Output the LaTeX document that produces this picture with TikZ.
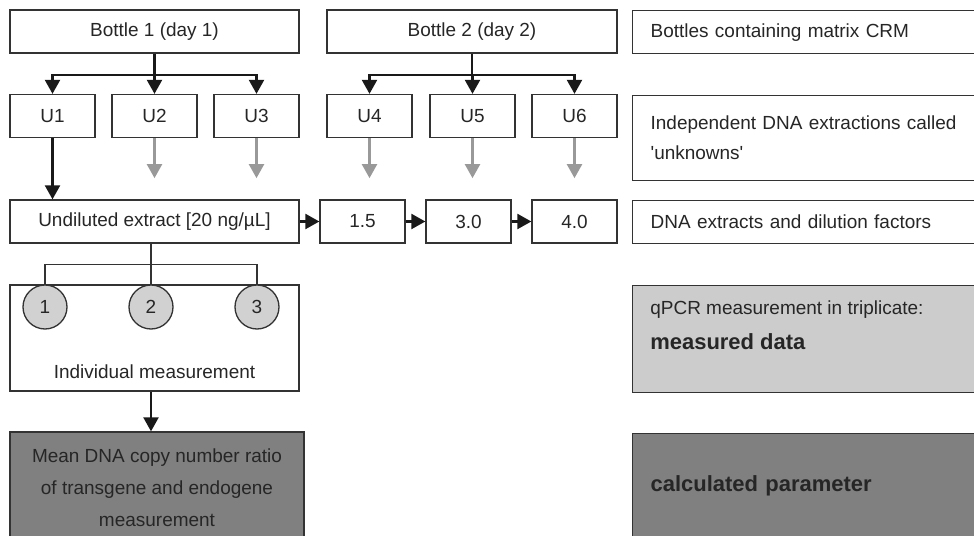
\documentclass[tikz,border=0pt]{standalone}
\usepackage{fontspec}
\setmainfont{Liberation Sans}
\usetikzlibrary{arrows.meta}
\begin{document}
\begin{tikzpicture}[x=0.02cm,y=-0.02cm]
\tikzstyle{every node}+=[inner sep=0pt, text=black!85, font=\fontsize{10.8}{13}\selectfont]
\tikzstyle{box}=[draw=black!80, line width=0.75pt, minimum height=0.86cm]
\tikzstyle{wide}=[box, minimum width=5.78cm]
\tikzstyle{ubox}=[box, minimum width=1.7cm]
\tikzstyle{side}=[box, anchor=north west, minimum width=8cm, text width=7.28cm, inner xsep=0.36cm, align=left]
\tikzstyle{circ}=[circle, draw=black!80, line width=0.75pt, fill=black!18, minimum size=0.88cm]
\tikzstyle{arrow}=[line width=1.3pt, black!90, -{Triangle[length=0.28cm, width=0.3cm]}]
\tikzstyle{garrow}=[arrow, black!40]
\tikzstyle{link}=[line width=0.75pt, black!80]
\tikzstyle{big}=[font=\fontsize{12.5}{15}\selectfont\bfseries]
\useasboundingbox (0,0) rectangle (974,536);
\clip (0,0) rectangle (974,536);
\node[wide] (b1) at (154.5,31.5) {Bottle 1 (day 1)};
\node[wide, minimum width=5.8cm] (b2) at (472,31.5) {Bottle 2 (day 2)};
\node[side] (lab1) at (632,10) {Bottles containing matrix CRM};
\node[ubox] (u1) at (52.5,116) {U1};
\node[ubox] (u2) at (154.5,116) {U2};
\node[ubox] (u3) at (256.5,116) {U3};
\node[ubox] (u4) at (369.5,116) {U4};
\node[ubox] (u5) at (472.5,116) {U5};
\node[ubox] (u6) at (574.5,116) {U6};
\node[side, minimum height=1.7cm, font=\fontsize{10.8}{17}\selectfont] (lab2) at (632,95) {Independent DNA extractions called\\\textquotesingle unknowns\textquotesingle};
\node[wide] (undil) at (154.5,221.5) {Undiluted extract [20 ng/µL]};
\node[ubox] (d1) at (362.5,221.5) {1.5};
\node[ubox] (d2) at (468.5,221.5) {3.0};
\node[ubox] (d3) at (574.5,221.5) {4.0};
\node[side] (lab3) at (632,200) {DNA extracts and dilution factors};
\node[wide, minimum height=2.12cm] (indiv) at (154.5,338) {};
\node (indivtxt) at (154.5,372) {Individual measurement};
\node[circ] (m1) at (45,307) {1};
\node[circ] (m2) at (151,307) {2};
\node[circ] (m3) at (257,307) {3};
\node[box, fill=gray, minimum width=5.88cm, minimum height=2.22cm] (mean) at (157,487.5) {};
\node[align=center, font=\fontsize{10.8}{18.2}\selectfont] (meantxt) at (157,487.5) {Mean DNA copy number ratio\\of transgene and endogene\\measurement};
\node[side, fill=black!20, minimum height=2.14cm] (qpcr) at (632,285) {};
\node[anchor=north west, align=left] (qpcrtxt) at ([shift={(18,15)}]qpcr.north west) {qPCR measurement in triplicate:\\[7pt]{\fontsize{12.5}{15}\selectfont\bfseries measured data}};
\node[side, fill=gray, minimum height=2.08cm, big] (calc) at (632,433) {calculated parameter};
\draw[line width=1.3pt, black!90] (b1.south) -- ++(0,21) coordinate (j1);
\foreach \u in {u1,u2,u3} \draw[arrow] (j1) -| (\u.north);
\draw[line width=1.3pt, black!90] (b2.south) -- ++(0,21) coordinate (j2);
\foreach \u in {u4,u5,u6} \draw[arrow] (j2) -| (\u.north);
\foreach \u in {u2,u3,u4,u5,u6} \draw[garrow] (\u.south) -- ++(0,40);
\draw[arrow] (u1.south) -- (u1.south |- undil.north);
\draw[arrow] (undil) -- (d1);
\draw[arrow] (d1) -- (d2);
\draw[arrow] (d2) -- (d3);
\draw[link] (m2 |- undil.south) -- (m2.north);
\draw[link] (m1.north) -- ++(0,-20) -| (m3.north);
\draw[arrow] (m2 |- indiv.south) -- (m2 |- mean.north);
\end{tikzpicture}
\end{document}
